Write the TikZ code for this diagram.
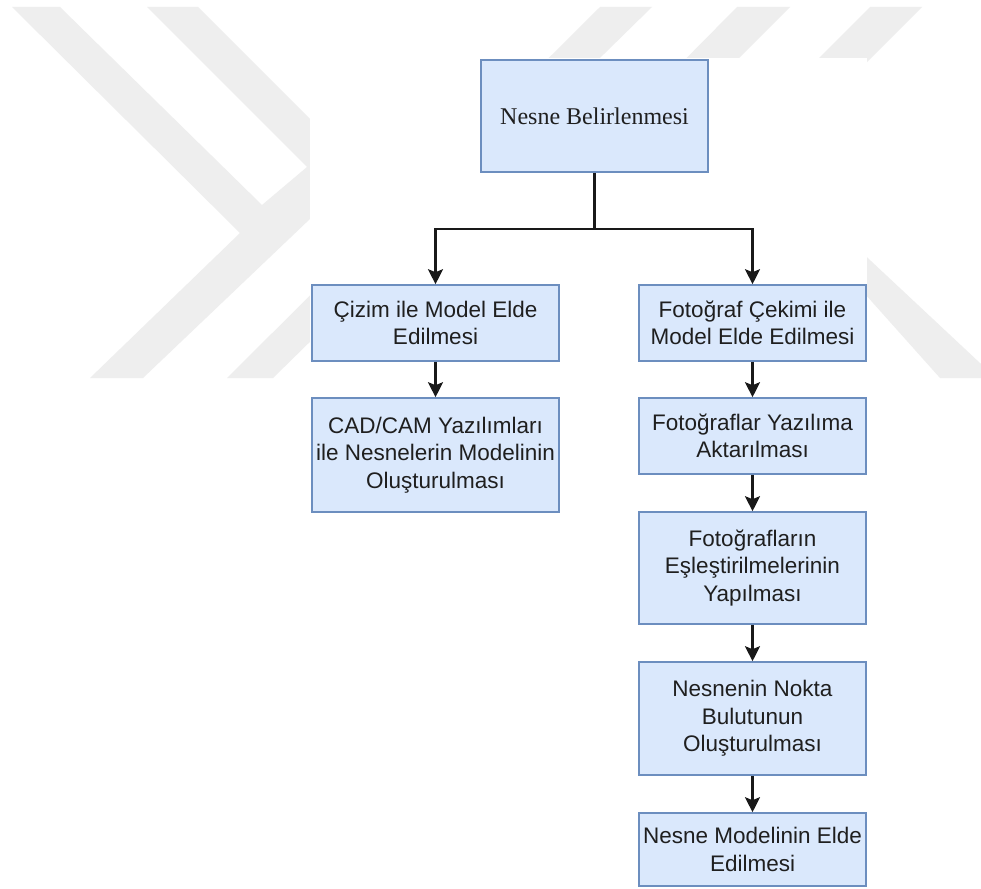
\documentclass[tikz,border=0pt]{standalone}
\usepackage{fontspec}
\setmainfont{Liberation Sans}
\newfontfamily\serifx{Liberation Serif}
\usetikzlibrary{arrows.meta}
\definecolor{boxfill}{HTML}{DAE8FC}
\definecolor{boxline}{HTML}{6C8EBF}
\definecolor{wmark}{HTML}{EEEEEE}
\tikzset{
  flowbox/.style={draw=boxline, fill=boxfill, line width=1.6pt, inner sep=0pt,
    align=center, text=black!88, font=\fontsize{22.5}{27.5}\selectfont},
  conn/.style={draw=black!90, line width=2.1pt},
  arr/.style={conn, -{Stealth[width=15pt,length=15pt,inset=3pt]}},
  wm/.style={fill=wmark, draw=none}
}
\begin{document}
\begin{tikzpicture}[x=1pt,y=-1pt]
\useasboundingbox (0,0) rectangle (981,888);
\fill[white] (0,0) rectangle (981,888);
% watermark
\fill[wm] (12,7) -- (60,7) -- (262,205) -- (307,167) -- (147,7) -- (198,7) -- (360,169) -- (311,218) -- (143,378) -- (90,378) -- (240,233) -- cycle;
\fill[wm] (227,378) -- (273,378) -- (652,7) -- (600,7) -- cycle;
\fill[wm] (737,7) -- (790,7) -- (700,97) -- (648,97) -- cycle;
\fill[wm] (870,7) -- (922,7) -- (832,97) -- (780,97) -- cycle;
\fill[wm] (840,232) -- (996,378) -- (940,378) -- (840,266) -- cycle;
% diagram canvas
\fill[white] (310,58) rectangle (867,888);
% boxes
\node[flowbox, minimum width=227pt, minimum height=112pt, font=\serifx\fontsize{24}{28}\selectfont] (top) at (594.5,116) {Nesne Belirlenmesi};
\node[flowbox, minimum width=247pt, minimum height=76pt] (l1) at (435.5,323) {Çizim ile Model Elde\\Edilmesi};
\node[flowbox, minimum width=247pt, minimum height=114pt] (l2) at (435.5,455) {CAD/CAM Yazılımları\\ile Nesnelerin Modelinin\\Oluşturulması};
\node[flowbox, minimum width=227pt, minimum height=76pt] (r1) at (752.5,323) {Fotoğraf Çekimi ile\\Model Elde Edilmesi};
\node[flowbox, minimum width=227pt, minimum height=76pt] (r2) at (752.5,436) {Fotoğraflar Yazılıma\\Aktarılması};
\node[flowbox, minimum width=227pt, minimum height=112pt] (r3) at (752.5,568) {Fotoğrafların\\Eşleştirilmelerinin\\Yapılması};
\node[flowbox, minimum width=227pt, minimum height=113pt] (r4) at (752.5,718.5) {Nesnenin Nokta\\Bulutunun\\Oluşturulması};
\node[flowbox, minimum width=227pt, minimum height=73pt] (r5) at (752.5,849.5) {Nesne Modelinin Elde\\Edilmesi};
% connectors
\coordinate (j) at (594.5,229);
\draw[conn] (top.south) -- (j);
\draw[arr] (j) -| (l1.north);
\draw[arr] (j) -| (r1.north);
\draw[arr] (l1.south) -- (l2.north);
\draw[arr] (r1.south) -- (r2.north);
\draw[arr] (r2.south) -- (r3.north);
\draw[arr] (r3.south) -- (r4.north);
\draw[arr] (r4.south) -- (r5.north);
\end{tikzpicture}
\end{document}
